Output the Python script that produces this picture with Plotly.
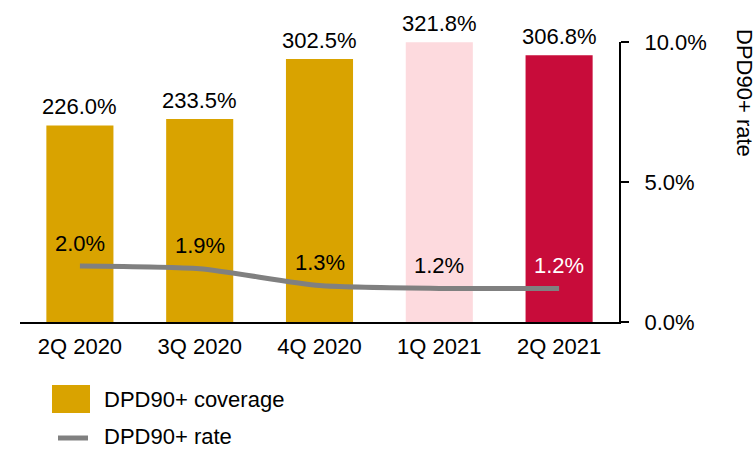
import plotly.graph_objects as go

quarters = ["2Q 2020", "3Q 2020", "4Q 2020", "1Q 2021", "2Q 2021"]
coverage = [226.0, 233.5, 302.5, 321.8, 306.8]
npl_rate = [2.0, 1.9, 1.3, 1.2, 1.2]

GOLD = "#D9A300"
PINK = "#FDDADE"
CRIMSON = "#C80C3A"
GREY = "#808080"
bar_colors = [GOLD, GOLD, GOLD, PINK, CRIMSON]
rate_label_colors = ["black", "black", "black", "black", "white"]

FONT = "Liberation Sans, Arial, sans-serif"
W, H = 756, 452
ML, MR, MT, MB = 20, 137, 42, 130


def px_x(px):
    return (px - ML) / (W - ML - MR)


def px_y(py):
    return (H - MB - py) / (H - MT - MB)


fig = go.Figure()

fig.add_trace(go.Bar(
    x=quarters, y=coverage, marker=dict(color=bar_colors, line=dict(width=0)),
    name="DPD90+ coverage", showlegend=False, yaxis="y",
))

fig.add_trace(go.Scatter(
    x=quarters, y=npl_rate, mode="lines", name="DPD90+ rate",
    line=dict(color=GREY, width=5, shape="spline", smoothing=0.6),
    showlegend=False, yaxis="y2", cliponaxis=False,
))

annotations = []
for q, v in zip(quarters, coverage):
    annotations.append(dict(
        x=q, y=v, xref="x", yref="y", text=f"{v:.1f}%", showarrow=False,
        yanchor="bottom", yshift=4, font=dict(size=22, color="black", family=FONT),
    ))
for q, v, c in zip(quarters, npl_rate, rate_label_colors):
    annotations.append(dict(
        x=q, y=v, xref="x", yref="y2", text=f"{v:.1f}%", showarrow=False,
        yanchor="middle", yshift=23, font=dict(size=22, color=c, family=FONT),
    ))

# right-axis title, reading top to bottom
annotations.append(dict(
    x=px_x(745), y=px_y(93), xref="paper", yref="paper", text="DPD90+ rate",
    textangle=90, showarrow=False, xanchor="center", yanchor="middle",
    font=dict(size=22, color="black", family=FONT),
))

# legend
annotations.append(dict(
    x=px_x(102), y=px_y(399), xref="paper", yref="paper", text="DPD90+ coverage",
    showarrow=False, xanchor="left", yanchor="middle",
    font=dict(size=22, color="black", family=FONT),
))
annotations.append(dict(
    x=px_x(102), y=px_y(437), xref="paper", yref="paper", text="DPD90+ rate",
    showarrow=False, xanchor="left", yanchor="middle",
    font=dict(size=22, color="black", family=FONT),
))

shapes = [
    dict(type="rect", xref="paper", yref="paper",
         x0=px_x(52), x1=px_x(90), y0=px_y(413), y1=px_y(385),
         fillcolor=GOLD, line=dict(width=0)),
    dict(type="line", xref="paper", yref="paper",
         x0=px_x(58), x1=px_x(88), y0=px_y(438), y1=px_y(438),
         line=dict(color=GREY, width=5)),
]

fig.update_layout(
    width=W, height=H,
    margin=dict(l=ML, r=MR, t=MT, b=MB),
    paper_bgcolor="white", plot_bgcolor="white",
    bargap=0.44,
    font=dict(family=FONT, size=22, color="black"),
    xaxis=dict(
        showline=True, linecolor="black", linewidth=2, ticks="",
        showgrid=False, tickfont=dict(size=22), ticklabelstandoff=4,
    ),
    yaxis=dict(range=[0, 322], visible=False, showgrid=False, fixedrange=True),
    yaxis2=dict(
        overlaying="y", side="right", range=[0, 10], tickvals=[0, 5, 10],
        ticktext=[f"{t:.1f}%" for t in [0, 5, 10]],
        showline=True, linecolor="black", linewidth=2,
        ticks="outside", ticklen=8, tickwidth=2, tickcolor="black",
        showgrid=False, zeroline=False, tickfont=dict(size=22),
        ticklabelstandoff=11,
    ),
    annotations=annotations,
    shapes=shapes,
    showlegend=False,
)

fig.write_html("out.html")
